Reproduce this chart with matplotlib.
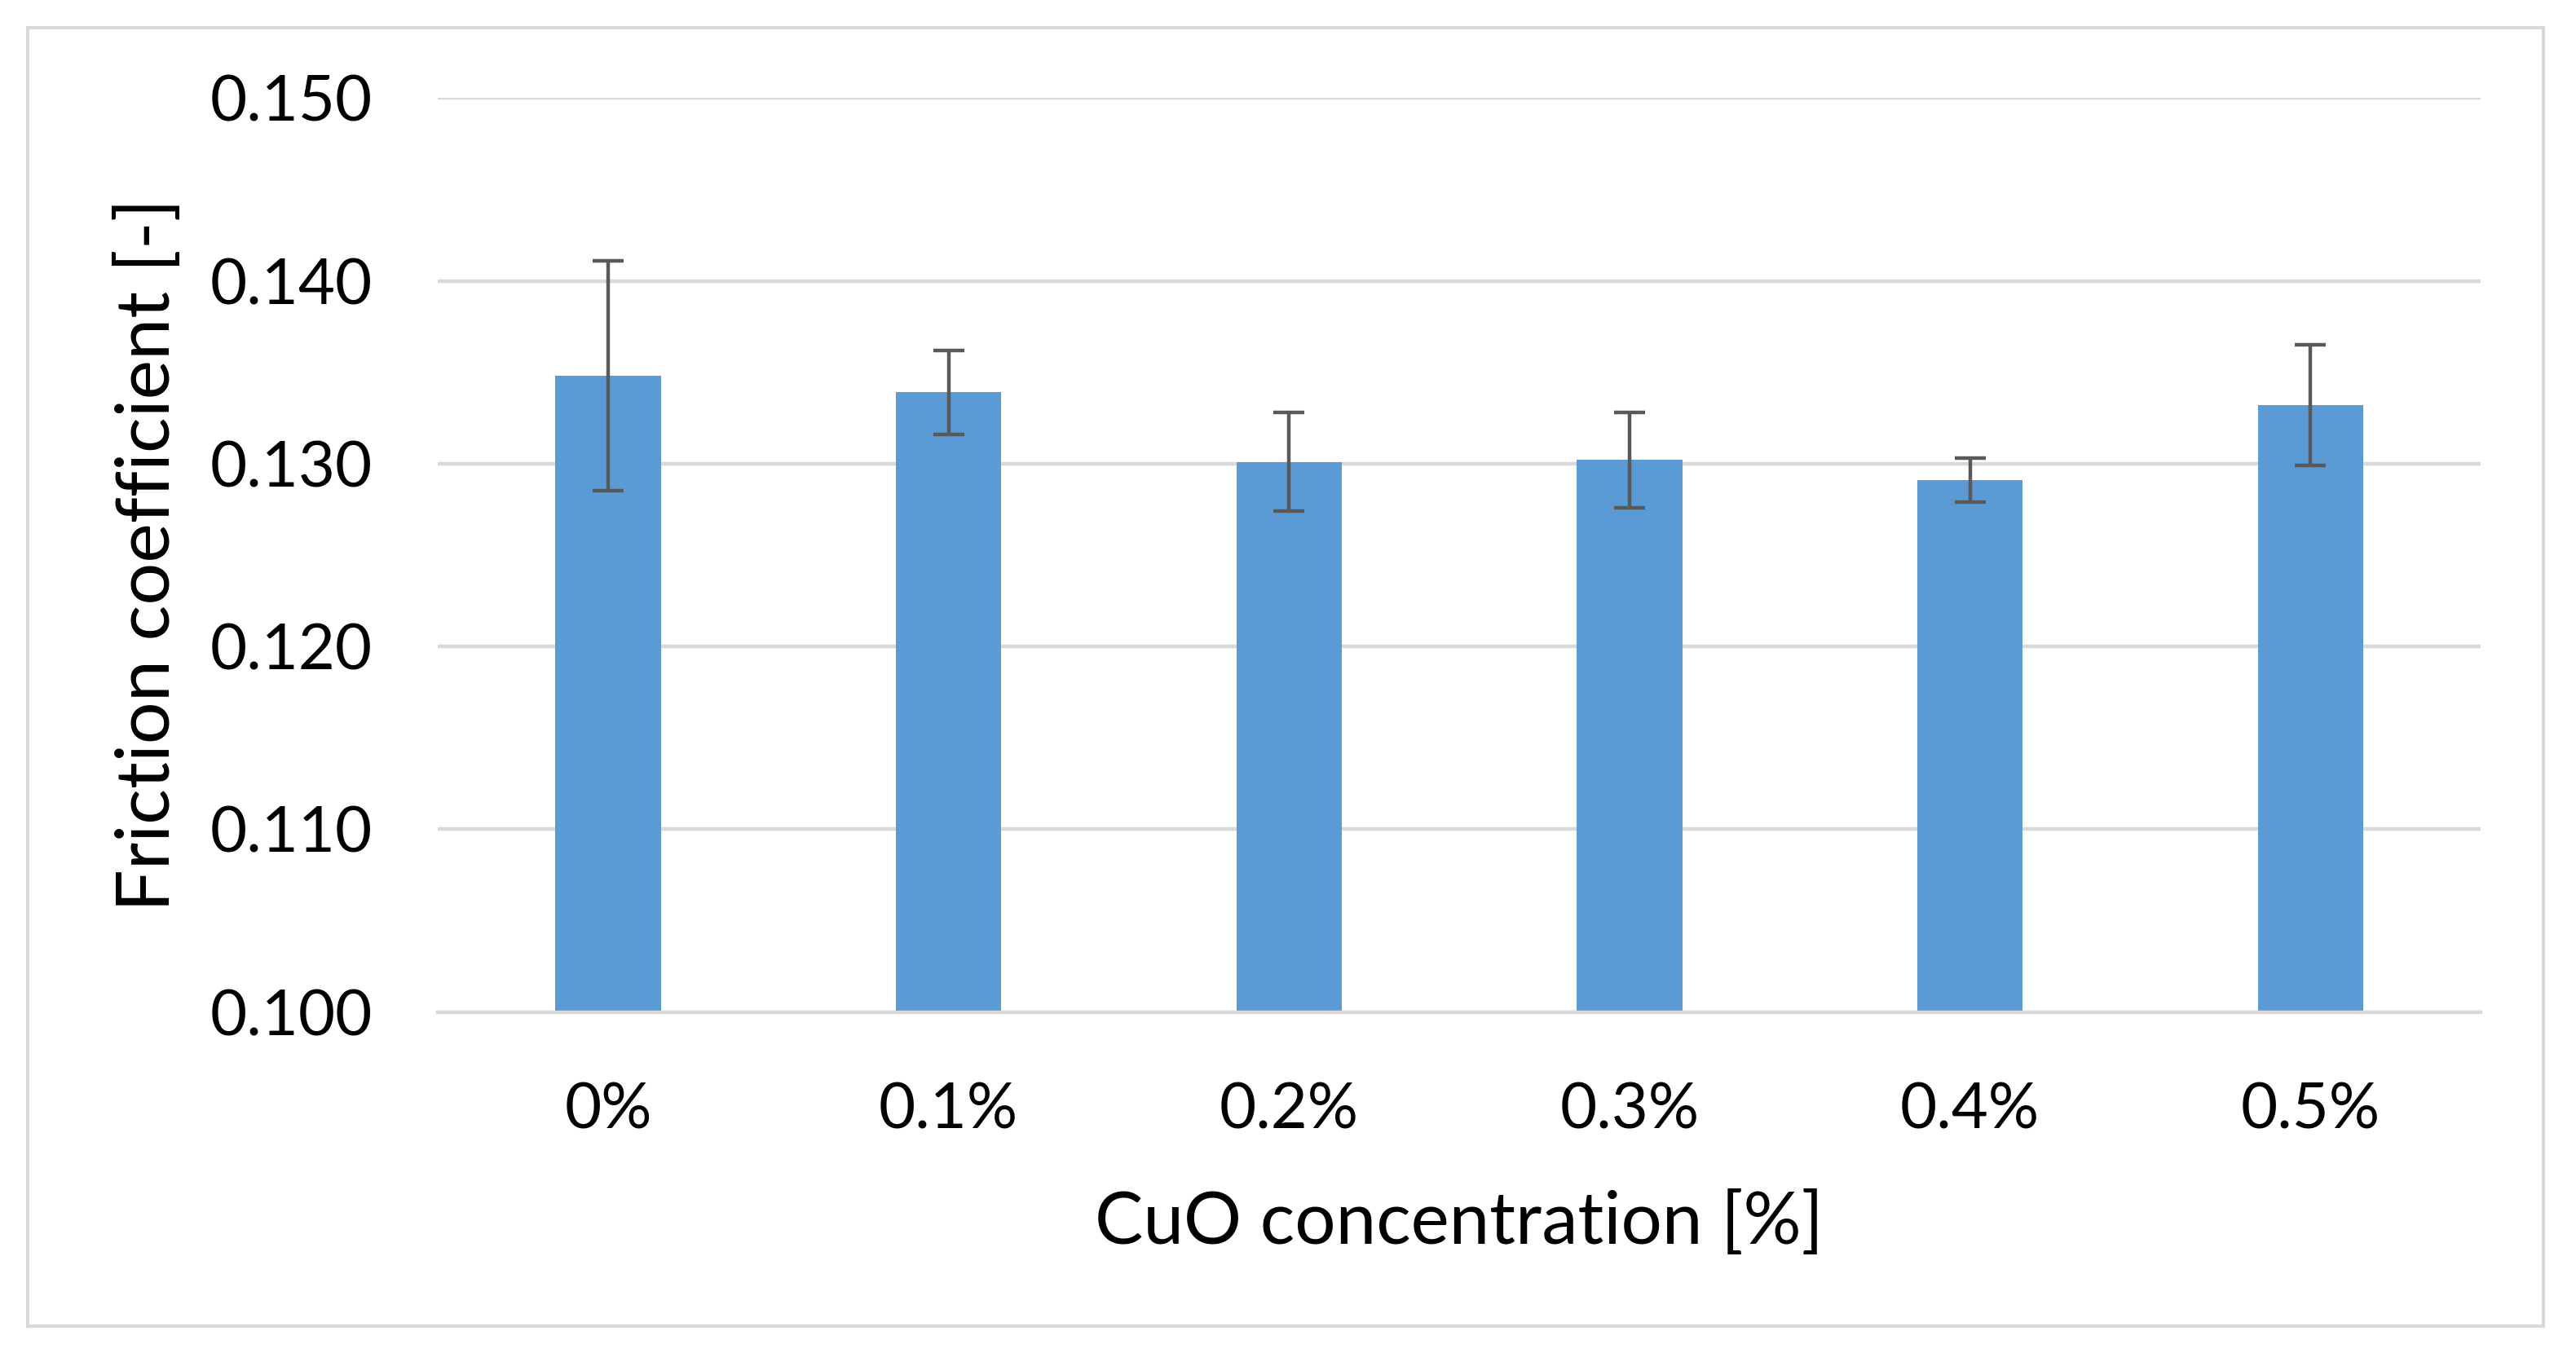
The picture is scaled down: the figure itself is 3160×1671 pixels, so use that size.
import numpy as np
import matplotlib.pyplot as plt
from matplotlib.patches import Rectangle

plt.rcParams['font.family'] = ['Lato', 'DejaVu Sans']

# data
conc = ['0%', '0.1%', '0.2%', '0.3%', '0.4%', '0.5%']
friction = [0.1348, 0.1339, 0.1301, 0.1302, 0.1291, 0.1332]
err = [0.0063, 0.0023, 0.0027, 0.0026, 0.0012, 0.0033]

fig = plt.figure(figsize=(15.8, 8.355), dpi=200)
ax = fig.add_axes([0.170, 0.257, 0.793, 0.671])

# light frame round the whole chart
fig.patches.append(Rectangle((34 / 3160, 1 - 1627 / 1671), (3120 - 34) / 3160, (1627 - 34) / 1671,
                             transform=fig.transFigure, fill=False, edgecolor='#D9D9D9', linewidth=1.5))

x = np.arange(len(conc))
ax.bar(x, friction, width=0.31, color='#5B9BD5', zorder=2)
ax.errorbar(x, friction, yerr=err, fmt='none', ecolor='#595959', elinewidth=1.6,
            capsize=7, capthick=1.6, zorder=3)

ax.set_ylim(0.100, 0.150)
ax.set_xlim(-0.5, 5.5)
ax.set_yticks(np.arange(0.100, 0.1501, 0.010))
ax.yaxis.set_major_formatter(plt.FormatStrFormatter('%.3f'))
ax.set_xticks(x)
ax.set_xticklabels(conc)

ax.grid(axis='y', color='#D9D9D9', linewidth=1.6, zorder=0)
ax.set_axisbelow(True)
for s in ['top', 'right', 'left']:
    ax.spines[s].set_visible(False)
ax.spines['bottom'].set_color('#D9D9D9')
ax.spines['bottom'].set_linewidth(1.6)
ax.tick_params(axis='both', length=0, labelsize=28)
ax.tick_params(axis='y', pad=29)
ax.tick_params(axis='x', pad=31)

ax.set_xlabel('CuO concentration [%]', fontsize=32, labelpad=22)
ax.set_ylabel('Friction coefficient [-]', fontsize=33, labelpad=12)

fig.savefig('out.png', dpi=200)
